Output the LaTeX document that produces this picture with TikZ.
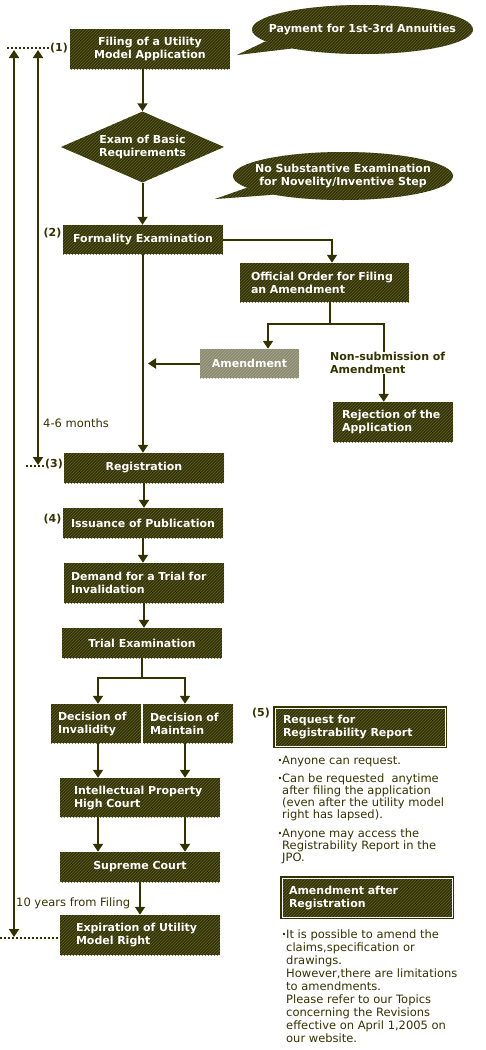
\documentclass[tikz,border=0pt]{standalone}
\usepackage{fontspec}
\setmainfont{DejaVu Sans}
\usetikzlibrary{positioning,shapes.geometric,arrows.meta,patterns}
\definecolor{oscuro}{RGB}{51,51,0}
\definecolor{rayado}{RGB}{98,98,58}
\definecolor{gris}{RGB}{138,138,112}
\definecolor{grisraya}{RGB}{168,168,145}
\newcommand{\punto}{\llap{\textbf{·}}}

\begin{document}
\begin{tikzpicture}[x=1pt, y=-1pt,
    fondo/.style 2 args={fill=#1, postaction={pattern=north east lines, pattern color=#2},
      text=white, inner sep=0pt, font=\fontsize{11}{13}\selectfont\bfseries},
    caja/.style={fondo={oscuro}{rayado}, align=center},
    cajagris/.style={fondo={gris}{grisraya}, align=center},
    recuadro/.style={fondo={oscuro}{rayado}, preaction={draw=oscuro, line width=4pt},
      postaction={draw=white, line width=0.8pt}},
    linea/.style={draw=oscuro, line width=2pt},
    flecha/.style={linea, -{Triangle[width=10pt,length=8pt]}},
    flechadoble/.style={linea, {Triangle[width=10pt,length=8pt]}-{Triangle[width=10pt,length=8pt]}},
    punteado/.style={draw=oscuro, line width=2pt, dash pattern=on 2pt off 2pt},
    etiqueta/.style={text=oscuro, inner sep=0pt, font=\fontsize{11}{13}\selectfont\bfseries},
    nota/.style={text=oscuro, inner sep=0pt, align=left, anchor=north west,
      font=\fontsize{11.5}{12}\selectfont}
  ]
  \useasboundingbox (0,0) rectangle (485,1050);

  % --- Globos de texto ---
  \node[caja, shape=ellipse, minimum width=221, minimum height=49] (Pago) at (362.5,29.5)
    {\makebox[0pt]{Payment for 1st-3rd Annuities}};
  \coordinate (PuntaPago) at (237,55);
  \fill[fondo={oscuro}{rayado}] (Pago.187) -- (PuntaPago) -- (Pago.195) -- cycle;

  \node[caja, shape=ellipse, minimum width=220, minimum height=48] (SinExamen) at (343,176)
    {\makebox[0pt]{\begin{tabular}{@{}c@{}}No Substantive Examination\\for Novelity/Inventive Step\end{tabular}}};
  \coordinate (PuntaExamen) at (215,199);
  \fill[fondo={oscuro}{rayado}] (SinExamen.187) -- (PuntaExamen) -- (SinExamen.195) -- cycle;

  % --- Flujo principal ---
  \node[caja, minimum width=160, minimum height=40] (Solicitud) at (150,49) {Filing of a Utility\\Model Application};
  \node[caja, shape=diamond, aspect=2.3, minimum width=163, minimum height=71] (Requisitos) at (142.5,147) {Exam of Basic\\Requirements};
  \node[caja, minimum width=160, minimum height=29] (Formal) at (143,239.5) {Formality Examination};
  \node[caja, align=left, text width=147, inner xsep=11, minimum height=39] (Orden) at (324.5,282.5) {Official Order for Filing\\an Amendment};
  \node[cajagris, minimum width=99, minimum height=29] (Enmienda) at (249.5,363.5) {Amendment};
  \node[etiqueta, align=left, anchor=north west] (NoPres) at (330,352) {Non-submission of\\Amendment};
  \node[caja, align=left, text width=102, inner xsep=9, minimum height=40] (Rechazo) at (393,422) {Rejection of the\\Application};
  \node[caja, minimum width=160, minimum height=30] (Registro) at (144,468) {Registration};
  \node[caja, minimum width=160, minimum height=30] (Emision) at (143,523) {Issuance of Publication};
  \node[caja, align=left, text width=146, inner xsep=7, minimum height=40] (Demanda) at (144,583) {Demand for a Trial for\\Invalidation};
  \node[caja, minimum width=160, minimum height=30] (Juicio) at (142,643) {Trial Examination};
  \node[caja, align=left, text width=76, inner xsep=7, minimum height=39] (Invalidez) at (96,723.5) {Decision of\\Invalidity};
  \node[caja, align=left, text width=76, inner xsep=7, minimum height=39] (Mantener) at (188,723.5) {Decision of\\Maintain};
  \node[caja, align=left, text width=132, inner xsep=14, minimum height=39] (Tribunal) at (140,797.5) {Intellectual Property\\High Court};
  \node[caja, minimum width=160, minimum height=30] (Supremo) at (140,867) {Supreme Court};
  \node[caja, align=left, text width=128, inner xsep=16, minimum height=40] (Expira) at (140,935) {Expiration of Utility\\Model Right};

  % --- Recuadros y notas a la derecha ---
  \node[recuadro, align=left, text width=154, inner xsep=8, minimum height=38] (Informe) at (360,727) {Request for\\Registrability Report};
  \node[recuadro, align=left, text width=156, inner xsep=7, minimum height=39] (Posterior) at (367,897.5) {Amendment after\\Registration};
  \node[nota] (Nota1) at (282,756) {\punto Anyone can request.};
  \node[nota] (Nota2) at (282,774) {\punto Can be requested~ anytime\\after filing the application\\(even after the utility model\\right has lapsed).};
  \node[nota] (Nota3) at (282,828.5) {\punto Anyone may access the\\Registrability Report in the\\JPO.};
  \node[nota, font=\fontsize{11.5}{13}\selectfont] (Nota4) at (286,930) {\punto It is possible to amend the\\claims,specification or\\drawings.\\However,there are limitations\\to amendments.\\Please refer to our Topics\\concerning the Revisions\\effective on April 1,2005 on\\our website.};

  % --- Etiquetas numeradas ---
  \node[etiqueta] (N1) at (59,48) {(1)};
  \node[etiqueta] (N2) at (52.5,233) {(2)};
  \node[etiqueta] (N3) at (54,464) {(3)};
  \node[etiqueta] (N4) at (52.5,519) {(4)};
  \node[etiqueta] (N5) at (261,713) {(5)};
  \node[nota, anchor=west] (Meses) at (43,423) {4-6 months};
  \node[nota, anchor=west] (Diez) at (16,903) {10 years from Filing};

  % --- Conexiones ---
  \draw[flecha] (Solicitud.south -| Requisitos.north) -- (Requisitos.north);
  \draw[flecha] (Requisitos.south) -- (Requisitos.south |- Formal.north);
  \draw[flecha] (Formal.east) -| ([xshift=7.5pt]Orden.north);
  \draw[linea] ([xshift=5.5pt]Orden.south) -- ++(0,22) coordinate (Rama);
  \draw[flecha] (Rama) -| ([xshift=18.5pt]Enmienda.north);
  \draw[linea] (Rama) -| ([xshift=-3.5pt]NoPres.north);
  \draw[flecha] ([xshift=-4pt]NoPres.south) -- ([xshift=-4pt]NoPres.south |- Rechazo.north);
  \draw[flecha] (Enmienda.west) -- ([xshift=5pt]Enmienda.west -| Formal.south);
  \draw[flecha] (Formal.south) -- (Formal.south |- Registro.north);
  \draw[flecha] (Registro.south) -- (Registro.south |- Emision.north);
  \draw[flecha] (Emision.south) -- (Emision.south |- Demanda.north);
  \draw[flecha] (Demanda.south) -- (Demanda.south |- Juicio.north);
  \draw[linea] (Juicio.south) -- ++(0,20) coordinate (Rama2);
  \draw[flecha] (Rama2) -| ([xshift=2pt]Invalidez.north);
  \draw[flecha] (Rama2) -| ([xshift=-3pt]Mantener.north);
  \draw[flecha] ([xshift=2pt]Invalidez.south) -- ([xshift=2pt]Invalidez.south |- Tribunal.north);
  \draw[flecha] ([xshift=-3pt]Mantener.south) -- ([xshift=-3pt]Mantener.south |- Tribunal.north);
  \draw[flecha] ([xshift=2pt]Invalidez.south |- Tribunal.south) -- ([xshift=2pt]Invalidez.south |- Supremo.north);
  \draw[flecha] ([xshift=-3pt]Mantener.south |- Tribunal.south) -- ([xshift=-3pt]Mantener.south |- Supremo.north);
  \draw[flecha] (Supremo.south) -- (Expira.north);

  % --- Plazos a la izquierda ---
  \coordinate (Inicio1) at (7,48);
  \coordinate (Inicio3) at (26,466);
  \coordinate (BordeInf) at (0,938);
  \coordinate (ExtSup) at (14,50);
  \coordinate (ExtInf) at (14,937);
  \coordinate (IntSup) at (38,50);
  \coordinate (IntInf) at (38,465);
  \draw[punteado] (Inicio1) -- (Inicio1 -| N1.west);
  \draw[punteado] (Inicio3) -- (Inicio3 -| N3.west);
  \draw[punteado] (BordeInf) -- (BordeInf -| Expira.west);
  \draw[flechadoble] (ExtSup) -- (ExtInf);
  \draw[flechadoble] (IntSup) -- (IntInf);
\end{tikzpicture}
\end{document}
